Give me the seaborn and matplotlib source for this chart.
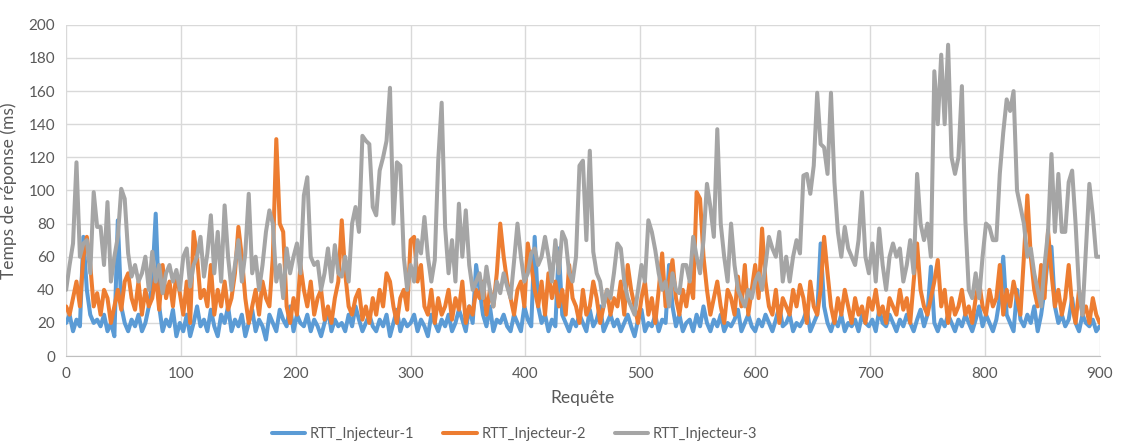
import matplotlib
matplotlib.use("Agg")
import matplotlib.pyplot as plt
import seaborn as sns
import numpy as np
import pandas as pd

# requests sampled every 3 (0..900)
requetes = list(range(0, 901, 3))

rtt_1 = [
    20, 25, 15, 22, 18, 72, 40, 25, 20, 22,
    18, 25, 15, 20, 12, 82, 30, 20, 15, 22,
    18, 25, 15, 20, 30, 45, 86, 30, 15, 22,
    18, 28, 12, 20, 15, 25, 12, 20, 30, 18,
    22, 15, 28, 18, 12, 25, 20, 30, 15, 22,
    18, 25, 12, 20, 28, 15, 22, 18, 10, 25,
    20, 15, 28, 22, 18, 30, 15, 25, 20, 18,
    25, 15, 22, 18, 12, 20, 28, 15, 22, 18,
    20, 15, 25, 18, 30, 22, 15, 20, 25, 18,
    15, 22, 18, 25, 12, 20, 28, 15, 22, 18,
    20, 25, 15, 22, 18, 12, 25, 20, 15, 22,
    18, 25, 15, 20, 28, 22, 15, 30, 20, 55,
    40, 25, 18, 30, 15, 22, 20, 25, 18, 15,
    25, 20, 15, 30, 22, 18, 72, 30, 20, 25,
    15, 22, 18, 65, 25, 20, 15, 22, 18, 25,
    20, 15, 28, 18, 22, 30, 15, 20, 25, 18,
    22, 15, 20, 25, 18, 12, 22, 28, 15, 20,
    18, 25, 15, 22, 20, 55, 30, 18, 25, 15,
    20, 22, 15, 25, 18, 30, 20, 15, 22, 18,
    25, 15, 20, 18, 22, 28, 15, 20, 25, 18,
    15, 22, 18, 25, 20, 15, 22, 30, 18, 20,
    25, 15, 20, 18, 22, 28, 15, 20, 25, 68,
    30, 20, 15, 22, 18, 25, 15, 20, 18, 22,
    15, 25, 20, 18, 22, 15, 28, 20, 18, 25,
    20, 15, 22, 18, 25, 20, 15, 22, 28, 18,
    25, 54, 20, 15, 22, 18, 25, 20, 15, 22,
    18, 25, 20, 15, 22, 30, 18, 25, 20, 15,
    22, 35, 60, 25, 20, 15, 40, 22, 18, 25,
    20, 30, 15, 25, 40, 60, 66, 30, 20, 25,
    18, 22, 35, 20, 15, 25, 20, 18, 22, 15,
    18,
]

rtt_2 = [
    30, 25, 35, 45, 30, 60, 72, 55, 30, 38,
    25, 40, 35, 20, 30, 40, 28, 45, 50, 35,
    28, 45, 25, 40, 30, 35, 50, 28, 55, 35,
    45, 30, 50, 38, 25, 45, 20, 75, 60, 35,
    40, 30, 55, 25, 40, 30, 45, 28, 35, 50,
    78, 60, 35, 20, 30, 40, 25, 45, 35, 30,
    60, 131, 80, 75, 30, 20, 35, 25, 55, 40,
    30, 45, 25, 35, 40, 22, 30, 20, 35, 45,
    82, 50, 30, 25, 35, 40, 22, 30, 20, 35,
    25, 40, 30, 50, 45, 30, 20, 35, 40, 28,
    70, 72, 45, 55, 30, 25, 40, 20, 35, 25,
    30, 40, 22, 35, 28, 45, 20, 30, 25, 40,
    35, 45, 25, 40, 30, 50, 80, 60, 45, 35,
    25, 40, 45, 30, 68, 55, 40, 30, 45, 25,
    50, 35, 45, 30, 40, 25, 55, 35, 30, 20,
    40, 25, 30, 45, 35, 20, 30, 40, 25, 35,
    30, 45, 25, 55, 40, 30, 20, 35, 45, 25,
    35, 20, 40, 62, 30, 45, 58, 35, 25, 40,
    30, 45, 35, 99, 95, 60, 40, 25, 35, 45,
    30, 20, 40, 35, 25, 48, 30, 55, 25, 40,
    55, 35, 77, 45, 30, 25, 40, 20, 35, 30,
    25, 40, 30, 43, 35, 20, 45, 30, 25, 40,
    72, 50, 30, 20, 35, 25, 40, 30, 20, 35,
    25, 30, 20, 35, 28, 40, 25, 30, 20, 35,
    30, 25, 40, 28, 35, 20, 45, 68, 40, 30,
    25, 35, 45, 58, 30, 40, 20, 35, 25, 30,
    40, 25, 30, 20, 35, 45, 30, 25, 40, 30,
    35, 55, 25, 40, 30, 45, 35, 25, 60, 97,
    60, 40, 30, 55, 35, 76, 50, 30, 40, 25,
    35, 55, 30, 20, 40, 25, 30, 20, 35, 25,
    20,
]

rtt_3 = [
    40, 55, 68, 117, 60, 68, 70, 50, 99, 78,
    78, 55, 93, 45, 60, 72, 101, 95, 62, 48,
    55, 45, 50, 60, 40, 63, 45, 55, 38, 50,
    55, 45, 52, 40, 60, 65, 42, 55, 60, 72,
    48, 62, 85, 50, 75, 45, 91, 60, 40, 55,
    70, 45, 62, 98, 50, 60, 40, 55, 75, 88,
    80, 45, 55, 35, 65, 50, 60, 68, 50, 97,
    108, 60, 55, 57, 40, 50, 65, 45, 67, 50,
    48, 60, 45, 80, 90, 75, 133, 130, 128, 90,
    85, 112, 120, 130, 162, 80, 117, 115, 60, 40,
    55, 45, 70, 62, 84, 60, 45, 58, 118, 153,
    78, 50, 70, 45, 92, 60, 88, 55, 40, 45,
    50, 35, 54, 40, 30, 45, 38, 50, 42, 35,
    57, 80, 60, 45, 50, 62, 65, 55, 60, 72,
    60, 45, 70, 50, 75, 70, 50, 45, 60, 115,
    118, 70, 124, 63, 50, 45, 30, 40, 35, 50,
    68, 65, 45, 35, 30, 25, 40, 55, 45, 82,
    75, 64, 50, 40, 45, 30, 50, 40, 38, 55,
    55, 45, 72, 60, 50, 70, 104, 90, 72, 137,
    80, 60, 45, 80, 55, 40, 35, 30, 40, 35,
    45, 50, 40, 55, 72, 65, 60, 75, 45, 60,
    45, 60, 70, 62, 109, 110, 98, 115, 159, 128,
    126, 110, 159, 105, 75, 60, 78, 65, 60, 55,
    70, 99, 60, 50, 68, 45, 77, 55, 40, 60,
    68, 60, 65, 45, 55, 70, 50, 110, 80, 70,
    80, 60, 172, 140, 182, 140, 188, 120, 110, 120,
    163, 82, 40, 35, 50, 35, 60, 80, 78, 70,
    70, 110, 135, 155, 148, 160, 100, 90, 80, 60,
    65, 50, 40, 30, 55, 75, 122, 75, 110, 75,
    75, 105, 112, 80, 40, 25, 65, 104, 85, 60,
    60,
]

series_names = ["RTT_Injecteur-1", "RTT_Injecteur-2", "RTT_Injecteur-3"]
colors = ["#5B9BD5", "#ED7D31", "#A5A5A5"]

df = pd.DataFrame({
    "Requête": requetes * 3,
    "RTT": rtt_1 + rtt_2 + rtt_3,
    "Série": [series_names[0]] * len(requetes)
             + [series_names[1]] * len(requetes)
             + [series_names[2]] * len(requetes),
})

sns.set_style("whitegrid")
plt.rcParams['font.family'] = ['Lato', 'DejaVu Sans']

fig = plt.figure(figsize=(11.21, 4.44), dpi=100)
ax = fig.add_axes([0.059, 0.198, 0.922, 0.746])

sns.lineplot(data=df, x="Requête", y="RTT", hue="Série",
             palette=dict(zip(series_names, colors)),
             linewidth=2.9, legend=False, ax=ax)

ax.set_xlim(0, 900)
ax.set_ylim(0, 200)
ax.set_xticks(range(0, 901, 100))
ax.set_yticks(range(0, 201, 20))
ax.grid(True, color="#D9D9D9", linewidth=1)
for s in ["top", "right", "left"]:
    ax.spines[s].set_visible(False)
ax.spines["bottom"].set_color("#BFBFBF")
ax.tick_params(axis="both", labelsize=11, colors="#595959", length=0, pad=8)

ax.set_xlabel("Requête", fontsize=12.5, color="#595959", labelpad=6)
ax.set_ylabel("Temps de réponse (ms)", fontsize=12.5, color="#595959", labelpad=8)

handles = [plt.Line2D([0], [0], color=c, linewidth=2.9) for c in colors]
fig.legend(handles, series_names, loc="center", bbox_to_anchor=(0.459, 0.022),
           ncol=3, frameon=False, fontsize=10.5, handlelength=2.3,
           handletextpad=0.3, columnspacing=2.0, labelcolor="#595959")

fig.savefig("out.png", dpi=100)
